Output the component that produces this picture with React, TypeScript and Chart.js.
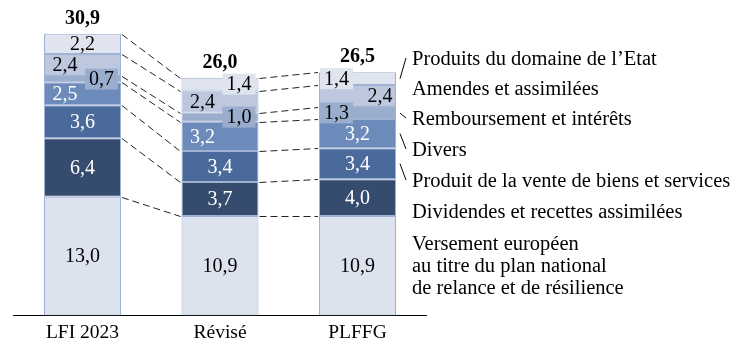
import React, { useEffect, useRef } from 'react';
import { Chart, registerables } from 'chart.js';

Chart.register(...registerables);

// ---- Data ----
const categories = ['LFI 2023', 'Révisé', 'PLFFG'];
const versementEuropeen = [13.0, 10.9, 10.9];
const dividendes = [6.4, 3.7, 4.0];
const venteBiens = [3.6, 3.4, 3.4];
const divers = [2.5, 3.2, 3.2];
const remboursement = [0.7, 1.0, 1.3];
const amendes = [2.4, 2.4, 2.4];
const produitsDomaine = [2.2, 1.4, 1.4];
const totals = [30.9, 26.0, 26.5];

const seriesLabels = [
  'Versement européen au titre du plan national de relance et de résilience',
  'Dividendes et recettes assimilées',
  'Produit de la vente de biens et services',
  'Divers',
  'Remboursement et intérêts',
  'Amendes et assimilées',
  'Produits du domaine de l\u2019Etat',
];
const legendLines = [
  ['Versement européen', 'au titre du plan national', 'de relance et de résilience'],
  ['Dividendes et recettes assimilées'],
  ['Produit de la vente de biens et services'],
  ['Divers'],
  ['Remboursement et intérêts'],
  ['Amendes et assimilées'],
  ['Produits du domaine de l\u2019Etat'],
];

// ---- Styles ----
const FONT = '"Liberation Serif", "Times New Roman", serif';
const colors = ['#dde3ee', '#364c6e', '#4a6a9b', '#6c8bbb', '#9badcd', '#bdc8de', '#dfe4ef'];
const textColors = ['#000', '#fff', '#fff', '#fff', '#000', '#000', '#000'];
// label placement per dataset (bottom->top) per bar
const placement = [
  ['c', 'c', 'c'],
  ['c', 'c', 'c'],
  ['c', 'c', 'c'],
  ['l', 'l', 'c'],
  ['rb', 'rb', 'lb'],
  ['l', 'l', 'r'],
  ['c', 'rb', 'lb'],
];
// legend layout (dataset index -> y of first line)
const legendY = [245, 213, 182, 151, 120, 90, 60];
const leaderFor = [false, false, true, true, true, false, true];

const fmt = (v: number) => v.toFixed(1).replace('.', ',');

const overlayPlugin = {
  id: 'overlay',
  afterDatasetsDraw(chart: any) {
    const ctx = chart.ctx;
    const n = chart.data.datasets.length;
    ctx.save();
    // dashed connectors
    ctx.strokeStyle = '#222';
    ctx.lineWidth = 1;
    ctx.setLineDash([7, 4]);
    for (let d = 0; d < n; d++) {
      const meta = chart.getDatasetMeta(d);
      for (let i = 0; i < meta.data.length - 1; i++) {
        const a = meta.data[i];
        const b = meta.data[i + 1];
        const aRight = a.x + a.width / 2;
        const bLeft = b.x - b.width / 2;
        ctx.beginPath();
        ctx.moveTo(aRight + 1, Math.round(a.y) + 0.5);
        ctx.lineTo(bLeft - 1, Math.round(b.y) + 0.5);
        ctx.stroke();
      }
    }
    ctx.setLineDash([]);

    // value labels
    ctx.font = `20px ${FONT}`;
    ctx.textAlign = 'center';
    ctx.textBaseline = 'middle';
    for (let d = 0; d < n; d++) {
      const meta = chart.getDatasetMeta(d);
      const values = chart.data.datasets[d].data as number[];
      meta.data.forEach((el: any, i: number) => {
        const left = el.x - el.width / 2;
        const right = el.x + el.width / 2;
        const cy = (el.y + el.base) / 2;
        const p = placement[d][i];
        let cx = el.x;
        if (p === 'l') cx = left + 21;
        else if (p === 'r') cx = right - 16;
        else if (p === 'rb' || p === 'lb') {
          const bw = 33;
          const bh = 21;
          const bx = p === 'rb' ? right - 3 - bw : left + 1;
          ctx.fillStyle = colors[d];
          ctx.fillRect(bx, cy - bh / 2, bw, bh);
          cx = bx + bw / 2;
        }
        ctx.fillStyle = textColors[d];
        ctx.fillText(fmt(values[i]), cx, cy + 1);
      });
    }

    // totals
    ctx.font = `bold 20px ${FONT}`;
    ctx.fillStyle = '#000';
    const topMeta = chart.getDatasetMeta(n - 1);
    topMeta.data.forEach((el: any, i: number) => {
      ctx.fillText(fmt(totals[i]), el.x, el.y - 15);
    });

    // legend on the right
    const lastMeta = (d: number) => chart.getDatasetMeta(d).data[chart.getDatasetMeta(d).data.length - 1];
    const lx = lastMeta(0).x + lastMeta(0).width / 2 + 16;
    ctx.font = `20.5px ${FONT}`;
    ctx.textAlign = 'left';
    ctx.textBaseline = 'middle';
    ctx.fillStyle = '#000';
    ctx.strokeStyle = '#000';
    ctx.lineWidth = 1;
    for (let d = 0; d < n; d++) {
      const lines = legendLines[d];
      lines.forEach((t, k) => ctx.fillText(t, lx, legendY[d] + k * 22));
      if (leaderFor[d]) {
        const el = lastMeta(d);
        const sx = el.x + el.width / 2 + 4;
        const sy = (el.y + el.base) / 2;
        ctx.beginPath();
        ctx.moveTo(sx, sy);
        ctx.lineTo(lx - 6, legendY[d] - 2);
        ctx.stroke();
      }
    }
    ctx.restore();
  },
};

export default function App() {
  const ref = useRef<HTMLCanvasElement | null>(null);
  useEffect(() => {
    if (!ref.current) return;
    const series = [versementEuropeen, dividendes, venteBiens, divers, remboursement, amendes, produitsDomaine];
    const chart = new Chart(ref.current, {
      type: 'bar',
      data: {
        labels: categories,
        datasets: series.map((data, d) => ({
          label: seriesLabels[d],
          data,
          backgroundColor: colors[d],
          borderColor: '#a0b2d4',
          borderWidth: 1,
          borderSkipped: false,
          barPercentage: 0.56,
          categoryPercentage: 1,
        })),
      },
      options: {
        responsive: false,
        animation: false,
        layout: { padding: { left: 13.75, right: 318.75, top: 4.6, bottom: 5 } },
        plugins: { legend: { display: false }, tooltip: { enabled: false } },
        scales: {
          x: {
            stacked: true,
            grid: { display: false, drawTicks: false },
            border: { display: true, color: '#000', width: 1 },
            ticks: { color: '#000', font: { family: FONT, size: 19.5 }, padding: 6 },
          },
          y: { stacked: true, display: false, min: 0, max: 34 },
        },
      },
      plugins: [overlayPlugin],
    });
    return () => chart.destroy();
  }, []);
  return (
    <div style={{ position: 'absolute', left: 0, top: 0, width: 745, height: 356, background: '#fff' }}>
      <canvas ref={ref} width={745} height={356} style={{ display: 'block' }} />
    </div>
  );
}
